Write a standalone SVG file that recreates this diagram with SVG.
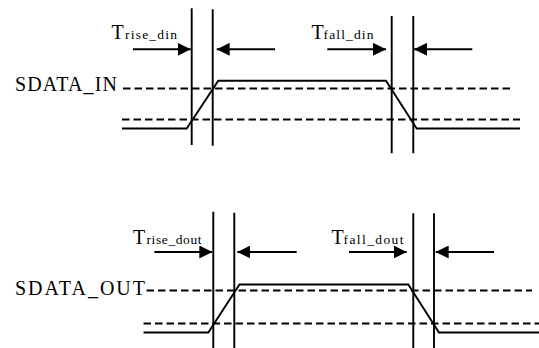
<svg xmlns="http://www.w3.org/2000/svg" width="539" height="348" viewBox="0 0 539 348">
<style>
.s{stroke:#000;stroke-width:1.9;fill:none}
.d{stroke:#000;stroke-width:1.9;fill:none;stroke-dasharray:7.5,4}
.a{stroke:#000;stroke-width:1.9;fill:none;marker-end:url(#ah)}
text{font-family:'Liberation Serif','Times New Roman','DejaVu Serif',serif;fill:#000}
.big{font-size:20px}
.sub{font-size:13.5px}
</style>
<defs>
<marker id="ah" markerUnits="userSpaceOnUse" markerWidth="13" markerHeight="13" refX="13" refY="6.5" orient="auto" viewBox="0 0 13 13">
<path d="M0,0 L13,6.5 L0,13 z" fill="#000"/>
</marker>
</defs>
<rect width="539" height="348" fill="#fff"/>
<g id="din">
<text class="big" x="15" y="90.5" textLength="102" lengthAdjust="spacing">SDATA_IN</text>
<text class="big" x="111.5" y="39">T</text>
<text class="sub" x="125" y="39" textLength="52" lengthAdjust="spacing">rise_din</text>
<text class="big" x="311.5" y="39">T</text>
<text class="sub" x="323.5" y="39" textLength="50" lengthAdjust="spacing">fall_din</text>
<path class="d" d="M123,88.5 H510 M122,119.5 H520"/>
<path class="s" d="M122,128.5 H186.7 L218.3,80.7 H386 L416.7,128.5 H520"/>
</g>
<g id="dout">
<text class="big" x="15" y="294.5" textLength="130" lengthAdjust="spacing">SDATA_OUT</text>
<text class="big" x="133" y="243.5">T</text>
<text class="sub" x="146.5" y="243.5" textLength="55" lengthAdjust="spacing">rise_dout</text>
<text class="big" x="331.5" y="243.5">T</text>
<text class="sub" x="343.5" y="243.5" textLength="60" lengthAdjust="spacing">fall_dout</text>
<path class="d" d="M146.5,290.5 H532 M143.5,323.5 H539"/>
<path class="s" d="M143.5,332.5 H208.3 L239.5,284.5 H408.3 L439,332.5 H539"/>
</g>
<g id="connectors">
<path class="s" d="M191.7,8.3 V145 M212.7,9.3 V145.7 M391.7,16 V153.3 M413.3,16 V153.3"/>
<path class="s" d="M213.3,211.7 V348 M234.3,212.7 V348 M413.3,213.3 V348 M434,213.3 V348"/>
<path class="a" d="M133,49.3 H190.7"/>
<path class="a" d="M275,49.3 H216.7"/>
<path class="a" d="M327.3,49.3 H386"/>
<path class="a" d="M472.3,49.3 H414"/>
<path class="a" d="M154.3,252 H212.3"/>
<path class="a" d="M296.7,252 H237.3"/>
<path class="a" d="M349,252 H406.7"/>
<path class="a" d="M494,252 H435.7"/>
</g>
</svg>
